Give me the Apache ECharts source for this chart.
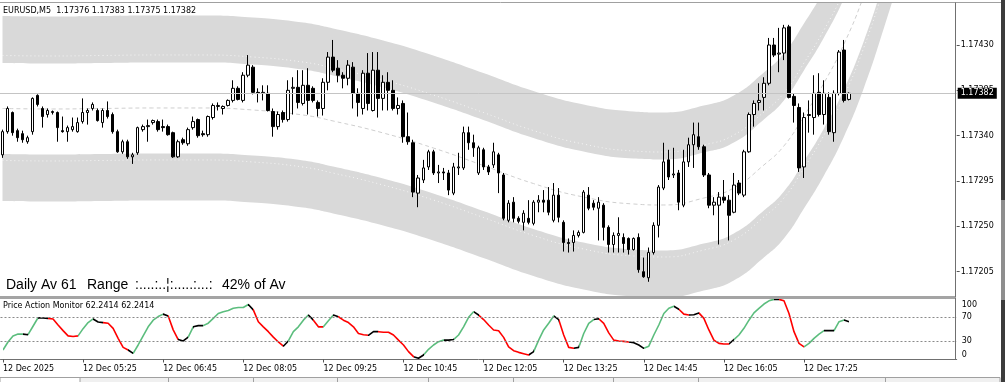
<!DOCTYPE html>
<html>
<head>
<meta charset="utf-8">
<script src="https://cdn.jsdelivr.net/npm/echarts@6/dist/echarts.min.js"></script>
<style>html,body{margin:0;padding:0;background:#fff;}#c{width:1005px;height:382px;}</style>
</head>
<body>
<div id="c"></div>
<script>
// ---------- DATA ----------
const symbolTitle = 'EURUSD,M5  1.17376 1.17383 1.17375 1.17382';
const lastPrice = 1.17382;
const opens = [1.17321,1.17344,1.17363,1.17345,1.17342,1.17334,1.17344,1.17380,1.17367,1.17361,
1.17363,1.17363,1.17345,1.17344,1.17346,1.17344,1.17354,1.17363,1.17367,1.17365,
1.17353,1.17365,1.17361,1.17344,1.17324,1.17334,1.17319,1.17323,1.17346,1.17349,
1.17353,1.17354,1.17349,1.17349,1.17343,1.17319,1.17336,1.17332,1.17348,1.17356,
1.17342,1.17341,1.17358,1.17369,1.17367,1.17370,1.17375,1.17387,1.17375,1.17400,
1.17408,1.17383,1.17382,1.17382,1.17364,1.17349,1.17363,1.17356,1.17387,1.17388,
1.17372,1.17390,1.17387,1.17373,1.17367,1.17393,1.17418,1.17407,1.17400,1.17397,
1.17408,1.17382,1.17367,1.17402,1.17365,1.17405,1.17377,1.17393,1.17385,1.17367,
1.17372,1.17339,1.17333,1.17283,1.17296,1.17309,1.17324,1.17303,1.17304,1.17303,
1.17283,1.17308,1.17308,1.17343,1.17333,1.17303,1.17326,1.17309,1.17311,1.17321,
1.17301,1.17256,1.17274,1.17258,1.17254,1.17258,1.17253,1.17274,1.17276,1.17276,
1.17256,1.17281,1.17254,1.17234,1.17234,1.17241,1.17244,1.17281,1.17273,1.17268,
1.17271,1.17249,1.17232,1.17241,1.17239,1.17238,1.17227,1.17239,1.17205,1.17199,
1.17224,1.17251,1.17288,1.17316,1.17301,1.17303,1.17271,1.17314,1.17331,1.17339,
1.17329,1.17301,1.17271,1.17271,1.17279,1.17276,1.17264,1.17293,1.17281,1.17324,
1.17361,1.17373,1.17378,1.17392,1.17430,1.17421,1.17422,1.17448,1.17379,1.17368,
1.17309,1.17360,1.17358,1.17383,1.17361,1.17378,1.17343,1.17382,1.17425,1.17376];
const closes = [1.17344,1.17367,1.17343,1.17338,1.17336,1.17338,1.17377,1.17371,1.17359,1.17365,
1.17364,1.17348,1.17344,1.17348,1.17349,1.17353,1.17363,1.17365,1.17371,1.17355,
1.17365,1.17359,1.17344,1.17324,1.17334,1.17319,1.17321,1.17348,1.17349,1.17350,
1.17355,1.17346,1.17348,1.17341,1.17319,1.17334,1.17333,1.17346,1.17354,1.17340,
1.17341,1.17359,1.17370,1.17370,1.17369,1.17375,1.17387,1.17376,1.17400,1.17410,
1.17383,1.17382,1.17383,1.17365,1.17349,1.17361,1.17356,1.17385,1.17388,1.17373,
1.17390,1.17375,1.17375,1.17367,1.17393,1.17418,1.17405,1.17400,1.17397,1.17410,
1.17382,1.17373,1.17402,1.17372,1.17405,1.17377,1.17393,1.17385,1.17367,1.17370,
1.17339,1.17334,1.17284,1.17298,1.17308,1.17324,1.17303,1.17304,1.17303,1.17286,
1.17309,1.17309,1.17343,1.17333,1.17328,1.17328,1.17309,1.17304,1.17324,1.17303,
1.17258,1.17273,1.17258,1.17255,1.17263,1.17254,1.17274,1.17276,1.17274,1.17264,
1.17281,1.17259,1.17234,1.17233,1.17241,1.17244,1.17284,1.17268,1.17269,1.17274,
1.17249,1.17232,1.17241,1.17243,1.17233,1.17227,1.17238,1.17207,1.17200,1.17224,
1.17251,1.17289,1.17314,1.17299,1.17302,1.17274,1.17314,1.17331,1.17341,1.17329,
1.17301,1.17271,1.17274,1.17279,1.17276,1.17261,1.17291,1.17283,1.17324,1.17361,
1.17372,1.17375,1.17392,1.17430,1.17420,1.17422,1.17447,1.17378,1.17370,1.17308,
1.17358,1.17361,1.17382,1.17361,1.17382,1.17344,1.17382,1.17423,1.17375,1.17382];
const lows = [1.17318,1.17342,1.17340,1.17334,1.17333,1.17332,1.17341,1.17369,1.17348,1.17358,
1.17361,1.17334,1.17343,1.17334,1.17344,1.17343,1.17352,1.17351,1.17365,1.17354,
1.17348,1.17357,1.17342,1.17323,1.17322,1.17317,1.17312,1.17321,1.17344,1.17334,
1.17351,1.17344,1.17344,1.17340,1.17318,1.17318,1.17331,1.17330,1.17346,1.17338,
1.17339,1.17339,1.17356,1.17365,1.17361,1.17369,1.17373,1.17375,1.17373,1.17398,
1.17381,1.17373,1.17375,1.17364,1.17339,1.17346,1.17353,1.17354,1.17361,1.17367,
1.17370,1.17361,1.17373,1.17359,1.17360,1.17385,1.17403,1.17393,1.17387,1.17390,
1.17367,1.17359,1.17361,1.17365,1.17364,1.17358,1.17365,1.17365,1.17365,1.17361,
1.17333,1.17331,1.17279,1.17269,1.17293,1.17306,1.17301,1.17293,1.17296,1.17281,
1.17281,1.17301,1.17306,1.17326,1.17319,1.17301,1.17306,1.17301,1.17308,1.17283,
1.17256,1.17254,1.17254,1.17253,1.17246,1.17252,1.17251,1.17264,1.17264,1.17261,
1.17254,1.17254,1.17225,1.17224,1.17225,1.17239,1.17243,1.17266,1.17266,1.17236,
1.17236,1.17224,1.17224,1.17224,1.17224,1.17222,1.17226,1.17204,1.17199,1.17195,
1.17222,1.17239,1.17286,1.17296,1.17298,1.17266,1.17269,1.17309,1.17308,1.17326,
1.17299,1.17268,1.17261,1.17232,1.17273,1.17236,1.17263,1.17281,1.17279,1.17323,
1.17349,1.17365,1.17365,1.17390,1.17418,1.17403,1.17415,1.17377,1.17353,1.17304,
1.17298,1.17343,1.17341,1.17359,1.17351,1.17341,1.17334,1.17380,1.17373,1.17375];
const highs = [1.17346,1.17369,1.17364,1.17347,1.17345,1.17340,1.17378,1.17381,1.17369,1.17367,
1.17365,1.17364,1.17359,1.17350,1.17358,1.17358,1.17377,1.17367,1.17373,1.17367,
1.17367,1.17374,1.17363,1.17346,1.17336,1.17336,1.17323,1.17349,1.17351,1.17356,
1.17356,1.17356,1.17356,1.17351,1.17344,1.17336,1.17338,1.17348,1.17359,1.17357,
1.17345,1.17360,1.17372,1.17373,1.17370,1.17376,1.17395,1.17389,1.17403,1.17420,
1.17410,1.17387,1.17390,1.17390,1.17367,1.17364,1.17365,1.17395,1.17398,1.17405,
1.17405,1.17407,1.17389,1.17375,1.17397,1.17423,1.17435,1.17415,1.17403,1.17415,
1.17413,1.17387,1.17405,1.17422,1.17423,1.17423,1.17400,1.17403,1.17395,1.17378,
1.17375,1.17363,1.17336,1.17301,1.17316,1.17326,1.17326,1.17311,1.17308,1.17306,
1.17313,1.17323,1.17349,1.17349,1.17341,1.17330,1.17328,1.17311,1.17333,1.17323,
1.17303,1.17276,1.17279,1.17260,1.17266,1.17276,1.17276,1.17281,1.17286,1.17289,
1.17293,1.17288,1.17256,1.17238,1.17246,1.17246,1.17286,1.17289,1.17276,1.17279,
1.17273,1.17251,1.17244,1.17259,1.17243,1.17239,1.17239,1.17243,1.17219,1.17229,
1.17254,1.17291,1.17333,1.17326,1.17328,1.17306,1.17326,1.17338,1.17353,1.17353,
1.17331,1.17303,1.17279,1.17284,1.17296,1.17281,1.17303,1.17296,1.17326,1.17363,
1.17375,1.17392,1.17398,1.17437,1.17437,1.17447,1.17450,1.17450,1.17382,1.17372,
1.17363,1.17375,1.17400,1.17402,1.17395,1.17383,1.17385,1.17425,1.17435,1.17383];

// band sample positions (bar index) and edge prices
const bandIdx = [0,10,20,30,40,50,60,66,76,86,96,106,116,126,132,140,146,152,156,160,164,168,172,176,180];
const upperOuter = [1.174588,1.174583,1.174588,1.174593,1.174593,1.174573,1.174523,1.174464,1.174345,1.174196,1.174022,1.173843,1.173709,1.173640,1.173630,1.173699,1.173799,1.174027,1.174216,1.174513,1.174841,1.175228,1.175714,1.176309,1.176955];
const upperInner = [1.174121,1.174116,1.174121,1.174126,1.174126,1.174106,1.174056,1.173997,1.173878,1.173729,1.173556,1.173377,1.173243,1.173173,1.173164,1.173233,1.173332,1.173561,1.173749,1.174047,1.174374,1.174762,1.175248,1.175843,1.176488];
const lowerInner = [1.173218,1.173213,1.173218,1.173223,1.173223,1.173203,1.173154,1.173094,1.172975,1.172826,1.172652,1.172474,1.172339,1.172270,1.172260,1.172329,1.172429,1.172657,1.172846,1.173144,1.173471,1.173858,1.174345,1.174940,1.175585];
const lowerOuter = [1.172752,1.172747,1.172752,1.172757,1.172757,1.172737,1.172687,1.172628,1.172509,1.172360,1.172186,1.172007,1.171873,1.171804,1.171794,1.171863,1.171963,1.172191,1.172380,1.172677,1.173005,1.173392,1.173878,1.174474,1.175119];
const midLine = [1.173670,1.173665,1.173670,1.173675,1.173675,1.173655,1.173605,1.173546,1.173427,1.173278,1.173104,1.172925,1.172791,1.172722,1.172712,1.172781,1.172881,1.173109,1.173298,1.173595,1.173923,1.174310,1.174796,1.175392,1.176037];
const upperTexture = [1.174196,1.174191,1.174196,1.174201,1.174201,1.174181,1.174131,1.174072,1.173953,1.173804,1.173630,1.173451,1.173317,1.173248,1.173238,1.173307,1.173407,1.173635,1.173824,1.174121,1.174449,1.174836,1.175322,1.175918,1.176563];
const lowerTexture = [1.173154,1.173149,1.173154,1.173159,1.173159,1.173139,1.173089,1.173029,1.172910,1.172762,1.172588,1.172409,1.172275,1.172206,1.172196,1.172265,1.172365,1.172593,1.172781,1.173079,1.173407,1.173794,1.174280,1.174876,1.175521];

const priceTicks = [1.17205,1.17250,1.17295,1.17340,1.17385,1.17430];

// Price Action Monitor values (one per bar)
const pamTitle = 'Price Action Monitor 62.2414 62.2414';
const pamValues = [15.7,29,39,42,42,41,55,69,68.5,68,
67,57,47.7,39,38,39,51,61,67,62,
61,60,51.5,35,20,15.7,10,24,39,54,
65,71,75,72,49,33,30.6,37,54,56,
56,60,68,76,79,81,84.6,86,86,91,
82,62.5,54,46,37,29,22,30.6,46,54,
65,73.5,65,54,54,64,73.5,70.7,65,61,
54,43,41,40,46,46,45,45,40.5,32,
24,13,4.7,2,7.4,16.8,24,29.5,32,32,
33,40.5,54,69.7,79,73.5,66,57,48.8,47.6,
36.6,21,14.6,11.8,9.6,7.4,13,32,48.8,59.8,
72,66,40.5,20,18.5,20,43,59.8,66,67.4,
59.8,44,32,30.6,30,29,27.8,24,18.5,22,
40.5,57,76,84.6,88,83,75,73.5,74,77,
68,48.8,32,26.7,25.6,25.6,33,40.5,51.5,65,
77,84.6,91.7,97,99.4,99.4,97,76,46,26.7,
21,26.7,35,42,47.7,47.7,47.7,62.5,65.3,62.2414];
const pamSegments = [[0,4,'up'],[4,5,'flat'],[5,7,'up'],[7,9,'flat'],[9,15,'down'],[15,18,'up'],[18,20,'flat'],[20,25,'down'],[25,26,'flat'],[26,32,'up'],[32,33,'flat'],[33,35,'down'],[35,37,'flat'],[37,38,'up'],[38,40,'flat'],[40,49,'up'],[49,50,'flat'],[50,56,'down'],[56,57,'flat'],[57,61,'up'],[61,62,'flat'],[62,64,'down'],[64,66,'up'],[66,67,'flat'],[67,73,'down'],[73,75,'flat'],[75,82,'down'],[82,84,'flat'],[84,88,'up'],[88,90,'flat'],[90,94,'up'],[94,95,'flat'],[95,105,'down'],[105,106,'flat'],[106,110,'up'],[110,111,'flat'],[111,114,'down'],[114,115,'flat'],[115,118,'up'],[118,119,'flat'],[119,125,'down'],[125,128,'flat'],[128,134,'up'],[134,135,'flat'],[135,137,'down'],[137,139,'flat'],[139,145,'down'],[145,146,'flat'],[146,154,'up'],[154,155,'flat'],[155,160,'down'],[160,164,'up'],[164,166,'flat'],[166,168,'up'],[168,169,'flat']];
const pamTicks = [0,30,70,100];
const pamLevels = [30,70];

const timeTickLabels = ['12 Dec 2025','12 Dec 05:25','12 Dec 06:45','12 Dec 08:05','12 Dec 09:25','12 Dec 10:45','12 Dec 12:05','12 Dec 13:25','12 Dec 14:45','12 Dec 16:05','12 Dec 17:25'];
const rangeTexts = ['Daily Av 61','Range',':....:..\u00a6:.....:...:','42% of Av'];

// ---------- BUILD ----------
const NCAT = 191, TICK_EVERY = 16;
const cats = [];
for (let i = 0; i < NCAT; i++) {
  const m = 4 * 60 + 5 + 5 * i;
  cats.push(String(Math.floor(m / 60) % 24).padStart(2, '0') + ':' + String(m % 60).padStart(2, '0'));
}
const candles = opens.map((o, i) => [o, closes[i], lows[i], highs[i]]);
const pairs = arr => bandIdx.map((x, k) => [x, arr[k]]);
const diffPairs = (a, b) => bandIdx.map((x, k) => [x, +(a[k] - b[k]).toFixed(7)]);
const colorOf = {up: '#5bbd7d', down: '#ff0000', flat: '#000000'};
const pieces = pamSegments.map(([a, b, c], k) =>
  k === pamSegments.length - 1 ? {gte: a, lte: b, color: colorOf[c]} : {gte: a, lt: b, color: colorOf[c]});
const showTick = idx => idx % TICK_EVERY === 0 && idx / TICK_EVERY < timeTickLabels.length;
const SMALL = '8px "DejaVu Sans"';
const BAND = '#d9d9d9';

const bandLine = (name, data, stack, fill) => ({
  name, type: 'line', xAxisIndex: 0, yAxisIndex: 0, data, stack, smooth: true,
  symbol: 'none', silent: true, lineStyle: {width: 0, opacity: 0},
  areaStyle: fill ? {color: BAND, opacity: 1} : undefined, z: 1
});

const option = {
  animation: false,
  backgroundColor: '#ffffff',
  grid: [
    {left: -3.664, right: 48.3, top: 3, height: 293},
    {left: -3.664, right: 48.3, top: 299, height: 60.5}
  ],
  xAxis: [
    {type: 'category', gridIndex: 0, data: cats, boundaryGap: true, show: false},
    {type: 'category', gridIndex: 1, data: cats, boundaryGap: true,
     axisLine: {show: true, onZero: false, lineStyle: {color: '#707070', width: 1}},
     axisTick: {show: true, alignWithLabel: true, length: 3, interval: showTick, lineStyle: {color: '#555'}},
     axisLabel: {interval: showTick, formatter: (v, idx) => timeTickLabels[idx / TICK_EVERY] || '',
                 align: 'left', color: '#000', fontFamily: 'DejaVu Sans', fontSize: 8, margin: 5},
     splitLine: {show: false}}
  ],
  yAxis: [
    {type: 'value', gridIndex: 0, position: 'right', scale: true, min: 1.1718088, max: 1.1747169,
     splitLine: {show: false}, axisLine: {show: false},
     axisTick: {show: true, length: 3, customValues: priceTicks, lineStyle: {color: '#555'}},
     axisLabel: {customValues: priceTicks, formatter: v => v.toFixed(5), color: '#000', fontFamily: 'DejaVu Sans', fontSize: 8, margin: 4}},
    {type: 'value', gridIndex: 1, position: 'right', min: 0, max: 100,
     splitLine: {show: false}, axisLine: {show: false},
     axisTick: {show: false},
     axisLabel: {customValues: pamTicks, color: '#000', fontFamily: 'DejaVu Sans', fontSize: 8, margin: 5,
                 showMinLabel: true, showMaxLabel: true,
                 formatter: v => v === 100 ? '{hi|100}' : (v === 0 ? '{lo|0}' : String(v)),
                 rich: {hi: {padding: [12, 0, 0, 0], fontFamily: 'DejaVu Sans', fontSize: 8, color: '#000'},
                        lo: {padding: [0, 0, 10, 0], fontFamily: 'DejaVu Sans', fontSize: 8, color: '#000'}}}}
  ],
  visualMap: [{type: 'piecewise', show: false, dimension: 0, seriesIndex: 8, pieces}],
  series: [
    bandLine('upperBase', pairs(upperInner), 'ub', false),
    bandLine('upperFill', diffPairs(upperOuter, upperInner), 'ub', true),
    bandLine('lowerBase', pairs(lowerOuter), 'lb', false),
    bandLine('lowerFill', diffPairs(lowerInner, lowerOuter), 'lb', true),
    {name: 'upperTex', type: 'line', data: pairs(upperTexture), smooth: true, symbol: 'none', silent: true, z: 1,
     lineStyle: {color: 'rgba(255,255,255,0.75)', width: 1, type: [1, 3]}},
    {name: 'lowerTex', type: 'line', data: pairs(lowerTexture), smooth: true, symbol: 'none', silent: true, z: 1,
     lineStyle: {color: 'rgba(255,255,255,0.75)', width: 1, type: [1, 3]}},
    {name: 'mid', type: 'line', data: pairs(midLine), smooth: true, symbol: 'none', silent: true, z: 1,
     lineStyle: {color: '#cfcfcf', width: 1, type: [4, 3]}},
    {name: 'EURUSD', type: 'candlestick', xAxisIndex: 0, yAxisIndex: 0, data: candles, barWidth: 3, z: 3,
     itemStyle: {color: '#ffffff', color0: '#000000', borderColor: '#000000', borderColor0: '#000000', borderColorDoji: '#000000', borderWidth: 1}},
    {name: 'PAM', type: 'line', xAxisIndex: 1, yAxisIndex: 1, data: pamValues, symbol: 'none', silent: true, z: 3,
     lineStyle: {width: 1.6}},
    {name: 'levels', type: 'line', xAxisIndex: 1, yAxisIndex: 1, data: [], silent: true,
     markLine: {silent: true, symbol: ['none', 'none'], animation: false, label: {show: false},
       lineStyle: {color: '#8a8a8a', type: [2, 2], width: 1},
       data: pamLevels.map(v => ({yAxis: v}))}},
    {name: 'bid', type: 'line', xAxisIndex: 0, yAxisIndex: 0, data: [], silent: true, clip: false, z: 2,
     markLine: {silent: true, symbol: ['none', 'none'], animation: false, precision: 5,
       lineStyle: {color: '#c4c4c4', type: 'solid', width: 1},
       label: {show: true, position: 'end', distance: 1, formatter: () => lastPrice.toFixed(5),
               backgroundColor: '#000', color: '#fff', fontFamily: 'DejaVu Sans', fontSize: 8, padding: [2, 3, 1, 3]},
       data: [{yAxis: lastPrice}]}}
  ],
  graphic: [
    {type: 'line', silent: true, z: 100, shape: {x1: 0, y1: 2.5, x2: 1001, y2: 2.5}, style: {stroke: '#a0a0a0', lineWidth: 1}},
    {type: 'line', silent: true, z: 100, shape: {x1: 955.5, y1: 2.5, x2: 955.5, y2: 297}, style: {stroke: '#707070', lineWidth: 1}},
    {type: 'rect', silent: true, z: 100, shape: {x: 0, y: 296, width: 956, height: 3}, style: {fill: '#a4a4a4'}},
    {type: 'line', silent: true, z: 100, shape: {x1: 955.5, y1: 298, x2: 955.5, y2: 360}, style: {stroke: '#707070', lineWidth: 1}},
    {type: 'rect', silent: true, z: 100, shape: {x: 1001, y: 0, width: 4, height: 200}, style: {fill: '#3c3c3c'}},
    {type: 'rect', silent: true, z: 100, shape: {x: 1001, y: 200, width: 4, height: 100}, style: {fill: '#8e8e8e'}},
    {type: 'rect', silent: true, z: 100, shape: {x: 1001, y: 300, width: 4, height: 82}, style: {fill: '#3c3c3c'}},
    {type: 'rect', silent: true, z: 99, shape: {x: 0, y: 377.5, width: 1000, height: 5}, style: {fill: '#f0f0f0', stroke: '#a0a0a0', lineWidth: 1}},
    {type: 'rect', silent: true, z: 99, shape: {x: 0, y: 377.5, width: 80, height: 5}, style: {fill: '#ffffff', stroke: '#a0a0a0', lineWidth: 1}},
    ...[168, 253, 337, 428, 513, 613, 698, 885].map(x => ({type: 'line', silent: true, z: 100,
      shape: {x1: x + 0.5, y1: 377.5, x2: x + 0.5, y2: 382}, style: {stroke: '#a0a0a0', lineWidth: 1}})),
    {type: 'text', silent: true, z: 101, style: {text: symbolTitle, x: 3, y: 11, font: SMALL, fill: '#000', verticalAlign: 'middle'}},
    {type: 'text', silent: true, z: 101, style: {text: pamTitle, x: 3, y: 306, font: SMALL, fill: '#000', verticalAlign: 'middle'}},
    {type: 'text', silent: true, z: 101, style: {text: rangeTexts[0], x: 6, y: 285.5, font: '14px "Liberation Sans"', fill: '#000', verticalAlign: 'middle'}},
    {type: 'text', silent: true, z: 101, style: {text: rangeTexts[1], x: 87, y: 285.5, font: '14px "Liberation Sans"', fill: '#000', verticalAlign: 'middle'}},
    {type: 'text', silent: true, z: 101, style: {text: rangeTexts[2], x: 135, y: 285.5, font: '14px "Liberation Sans"', fill: '#000', verticalAlign: 'middle'}},
    {type: 'text', silent: true, z: 101, style: {text: rangeTexts[3], x: 222, y: 285.5, font: '14px "Liberation Sans"', fill: '#000', verticalAlign: 'middle'}},
    // current-price tag drawn on top of the axis labels, positioned through the axis scale
    {type: 'group', id: 'bidTag', z: 102, silent: true, children: []}
  ]
};
const chart = echarts.init(document.getElementById('c'), null, {renderer: 'canvas', width: 1005, height: 382});
chart.setOption(option);
// Overlay tag placed with the library's own y scale so it covers the hidden axis label, as in the reference.
const tagY = chart.convertToPixel({yAxisIndex: 0}, lastPrice);
chart.setOption({graphic: [{id: 'bidTag', type: 'group', z: 102, silent: true, children: [
  {type: 'rect', shape: {x: 957, y: Math.round(tagY) - 5.5, width: 38, height: 11}, style: {fill: '#000'}, z: 102},
  {type: 'text', style: {text: lastPrice.toFixed(5), x: 976, y: Math.round(tagY), font: SMALL, fill: '#fff', align: 'center', verticalAlign: 'middle'}, z: 103}
]}]});
</script>
</body>
</html>
